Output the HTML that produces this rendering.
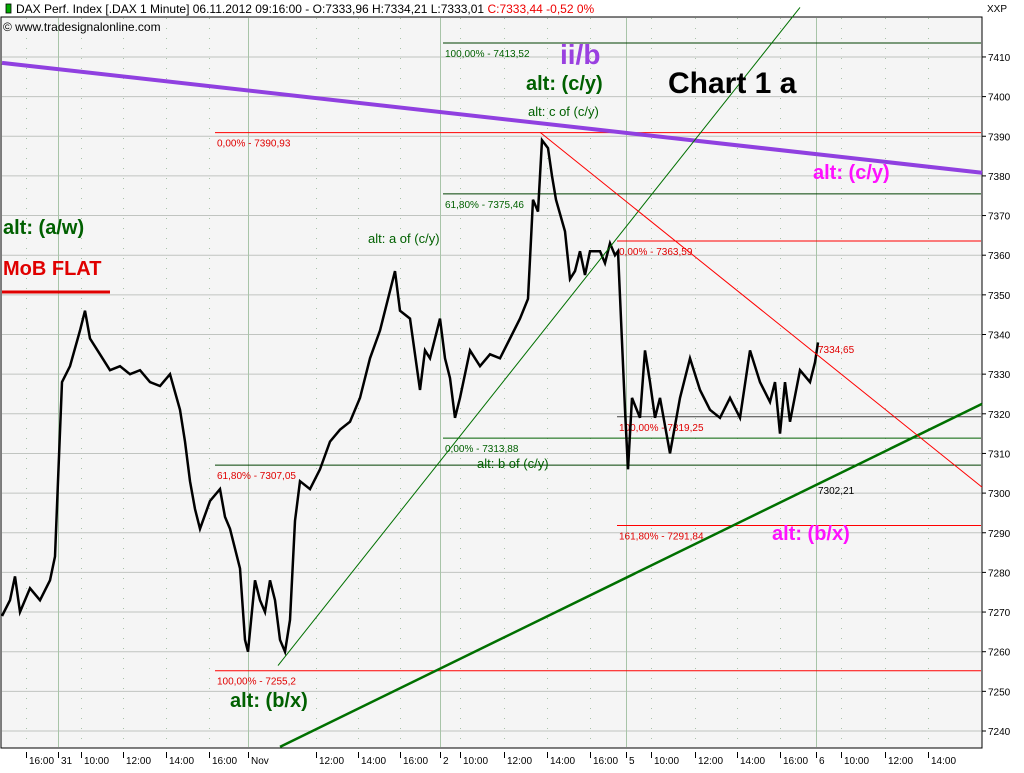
<!DOCTYPE html>
<html><head><meta charset="utf-8"><style>
body{margin:0;background:#fff;font-family:"Liberation Sans","DejaVu Sans",sans-serif;}
svg text{font-family:"Liberation Sans","DejaVu Sans",sans-serif;}
</style></head><body>
<svg id="chart" width="1024" height="768" xmlns="http://www.w3.org/2000/svg">
<rect x="0" y="0" width="1024" height="768" fill="#fff"/>
<rect x="1" y="17" width="981" height="731" fill="#f5f5f5" stroke="#000"/>
<g id="grid"></g>
<g id="levels"></g>
<g id="price"></g>
<g id="trend"></g>
<g id="axes"></g>
<g>
<rect x="6" y="4" width="5" height="9" fill="#0a0" stroke="#000" stroke-width="0.8"/>
<text x="16" y="13" font-size="12" fill="#000">DAX Perf. Index [.DAX  1 Minute] 06.11.2012 09:16:00 - O:7333,96 H:7334,21 L:7333,01 <tspan fill="#e00">C:7333,44 -0,52 0%</tspan></text>
<text x="3" y="31" font-size="12" fill="#000">© www.tradesignalonline.com</text>
<text x="987" y="12" font-size="10" fill="#000">XXP</text>
</g>
<g font-weight="bold">
<text x="560" y="64" font-size="28" fill="#9a40e0">ii/b</text>
<text x="526" y="90" font-size="20" fill="#006000">alt: (c/y)</text>
<text x="668" y="93" font-size="30" fill="#000">Chart 1 a</text>
<text x="813" y="179" font-size="20" fill="#ff10ff">alt: (c/y)</text>
<text x="3" y="234" font-size="20" fill="#006000">alt: (a/w)</text>
<text x="3" y="275" font-size="20" fill="#e00000">MoB FLAT</text>
<text x="772" y="540" font-size="20" fill="#ff10ff">alt: (b/x)</text>
<text x="230" y="707" font-size="20" fill="#006000">alt: (b/x)</text>
</g>
<line x1="2" y1="292" x2="110" y2="292" stroke="#e00000" stroke-width="3"/>
<g font-size="13" fill="#006000">
<text x="528" y="116">alt: c of (c/y)</text>
<text x="368" y="243">alt: a of (c/y)</text>
<text x="477" y="468">alt: b of (c/y)</text>
</g>
</svg>
<script>
const categoriesBar=[0,8,13,18,28,38,48,53,56,60,68,78,83,88,98,108,118,128,138,148,158,168,178,183,188,193,198,208,218,223,228,238,243,246,253,258,263,268,273,278,283,288,293,298,308,318,328,338,348,358,368,378,388,393,398,408,418,423,428,438,443,448,453,458,468,478,488,498,508,518,526,531,536,540,546,550,554,563,568,573,578,583,588,598,603,608,613,616,623,626,630,638,643,648,653,658,668,678,688,698,708,718,728,738,748,758,768,773,778,783,788,798,808,813,816];
const priceValues=[7269,7273,7279,7270,7276,7273,7278,7284,7303,7328,7332,7341,7346,7339,7335,7331,7332,7330,7331,7328,7327,7330,7321,7313,7303,7296,7291,7298,7301,7294,7291,7281,7263,7260,7278,7273,7270,7278,7273,7263,7260,7268,7293,7303,7301,7306,7313,7316,7318,7324,7334,7341,7351,7356,7346,7344,7326,7336,7334,7344,7334,7329,7319,7324,7336,7332,7335,7334,7339,7344,7349,7374,7371,7389,7387,7380,7374,7366,7354,7356,7361,7355,7361,7361,7358,7363,7360,7361,7321,7306,7324,7319,7336,7328,7319,7324,7310,7324,7334,7326,7321,7319,7324,7319,7336,7328,7323,7328,7315,7328,7318,7331,7328,7333,7338];
const yTicks=[7240,7250,7260,7270,7280,7290,7300,7310,7320,7330,7340,7350,7360,7370,7380,7390,7400,7410];
const xTickLabels=["16:00","31","10:00","12:00","14:00","16:00","Nov","12:00","14:00","16:00","2","10:00","12:00","14:00","16:00","5","10:00","12:00","14:00","16:00","6","10:00","12:00","14:00"];
const xTickBars=[24,56,79,121,164,207,246,314,356,398,438,458,502,545,588,624,649,693,735,778,814,839,883,926];
const xTickMajor=[0,1,0,0,0,0,1,0,0,0,1,0,0,0,0,1,0,0,0,0,1,0,0,0];
const levelValues=[7413.52,7390.93,7375.46,7363.59,7319.25,7313.88,7307.05,7291.84,7255.2];
const levelNames=["100,00% - 7413,52","0,00% - 7390,93","61,80% - 7375,46","0,00% - 7363,59","100,00% - 7319,25","0,00% - 7313,88","61,80% - 7307,05","161,80% - 7291,84","100,00% - 7255,2"];
const levelStartBar=[441,213,441,615,615,441,213,615,213];
const levelLineColor=["#004000","#ff0000","#004000","#ff0000","#404040","#006000","#004000","#ff0000","#ff0000"];
const levelTextColor=["#006000","#e00000","#006000","#e00000","#e00000","#006000","#e00000","#e00000","#e00000"];
const trendStartBar=[0,276,278,538];
const trendStartVal=[7408.5,7256.5,7236,7391];
const trendEndBar=[980,798,980,980];
const trendEndVal=[7380.8,7422.5,7322.5,7301.5];

const NS="http://www.w3.org/2000/svg";
const X=b=>2+b;
const Y=v=>731-(v-7240)*3.965;
function mk(tag,attrs,parent){const e=document.createElementNS(NS,tag);for(const k in attrs)e.setAttribute(k,attrs[k]);parent.appendChild(e);return e;}
const grid=document.getElementById('grid'),axes=document.getElementById('axes'),lev=document.getElementById('levels'),pr=document.getElementById('price'),tr=document.getElementById('trend');
yTicks.forEach(v=>{
 const g=mk('line',{x1:2,x2:981,y1:Y(v),y2:Y(v),stroke:'#c0c4c0','stroke-width':1},grid);
 
 
 const t=mk('line',{x1:982,x2:986,y1:Y(v),y2:Y(v),stroke:'#000'},axes);
 
 
 const l=mk('text',{x:988,y:Y(v)+4,'font-size':10,fill:'#000'},axes);l.textContent=v;
 
 
});
xTickBars.forEach((b,i)=>{
 const major=xTickMajor[i];
 const gl=mk('line',{x1:X(b)+0.5,x2:X(b)+0.5,y1:18,y2:747,stroke:'#a8c4a8','stroke-width':1,'stroke-dasharray':major?'none':'1,9'},grid);
 
 
 const t=mk('line',{x1:X(b)+0.5,x2:X(b)+0.5,y1:752,y2:758,stroke:'#000'},axes);
 
 
 const l=mk('text',{x:X(b)+3,y:764,'font-size':10,fill:'#000'},axes);l.textContent=xTickLabels[i];
 
 
});
levelValues.forEach((v,i)=>{
 const ln=mk('line',{x1:X(levelStartBar[i]),x2:981,y1:Y(v),y2:Y(v),stroke:levelLineColor[i],'stroke-width':1},lev);
 
 
 const t=mk('text',{x:X(levelStartBar[i])+2,y:Y(v)+14,'font-size':10,fill:levelTextColor[i]},lev);t.textContent=levelNames[i];
 
 
});
let pts=categoriesBar.map((b,i)=>X(b)+','+Y(priceValues[i]).toFixed(1)).join(' ');
const pl=mk('polyline',{points:pts,fill:'none',stroke:'#000','stroke-width':2.5,'stroke-linejoin':'miter'},pr);


const trCol=['#9040e0','#007000','#007000','#ff0000'],trW=[4,1,2.5,1];
trendStartBar.forEach((b,i)=>{
 const l=mk('line',{x1:X(b),y1:Y(trendStartVal[i]),x2:X(trendEndBar[i]),y2:Y(trendEndVal[i]),stroke:trCol[i],'stroke-width':trW[i]},tr);
 
 
});
const last=mk('text',{x:818,y:353,'font-size':10,fill:'#e00000'},axes);last.textContent='7334,65';


const tl=mk('text',{x:818,y:494,'font-size':10,fill:'#000'},axes);tl.textContent='7302,21';


</script>
</body></html>
